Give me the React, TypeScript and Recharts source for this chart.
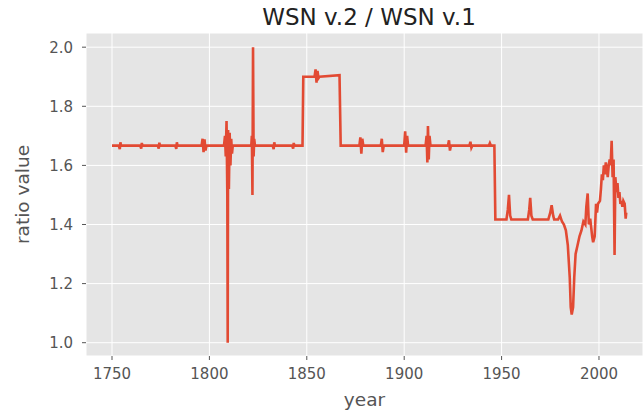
import React from "react";
import { LineChart, Line, XAxis, YAxis, CartesianGrid } from "recharts";

// ratio of WSN v.2 over WSN v.1
const years = [
  1750, 1753.5, 1754, 1754.3, 1754.6, 1764.5, 1765, 1765.3, 1765.6, 1773.5, 1774, 1774.3, 1774.6,
  1782.5, 1783, 1783.3, 1783.6, 1796, 1796.5, 1797, 1797.5, 1798, 1798.5, 1807.5, 1808, 1808.4,
  1808.8, 1809.2, 1809.4, 1809.6, 1810, 1810.4, 1810.8, 1811.2, 1811.6, 1812, 1821.5, 1821.8,
  1822.1, 1822.4, 1822.7, 1823, 1823.4, 1832.5, 1833, 1833.3, 1833.6, 1842.5, 1843, 1843.3, 1843.6,
  1847.8, 1848.2, 1854, 1854.5, 1855, 1855.5, 1856, 1856.5, 1866.8, 1867.4, 1877, 1877.5, 1878,
  1878.5, 1879, 1888, 1888.5, 1889, 1889.5, 1900, 1900.5, 1901, 1901.5, 1902, 1911, 1911.5, 1911.9,
  1912.2, 1912.6, 1913, 1913.5, 1922.5, 1923, 1923.5, 1924, 1933.5, 1934, 1934.5, 1935, 1943.5,
  1944, 1944.5, 1946.3, 1946.8, 1952.5, 1953.2, 1953.8, 1954.4, 1955, 1963.5, 1964.2, 1964.7,
  1965.3, 1966, 1974, 1975, 1975.7, 1976.5, 1977, 1979, 1980, 1981, 1982, 1983, 1984, 1985,
  1985.5, 1986, 1986.7, 1987.3, 1988, 1989, 1990, 1991, 1992, 1993, 1993.5, 1994.2, 1994.8,
  1995.5, 1996.5, 1997, 1997.8, 1998.5, 1999, 1999.5, 2000.5, 2001, 2001.5, 2002, 2002.5, 2003,
  2003.5, 2004, 2004.5, 2005, 2005.5, 2006, 2006.5, 2007, 2007.5, 2008, 2008.4, 2009, 2009.5,
  2010, 2010.5, 2011, 2011.5, 2012, 2012.5, 2013.2, 2013.7, 2014,
];
const ratios = [
  1.667, 1.667, 1.655, 1.678, 1.667, 1.667, 1.657, 1.676, 1.667, 1.667, 1.657, 1.677, 1.667,
  1.667, 1.656, 1.678, 1.667, 1.667, 1.69, 1.645, 1.688, 1.65, 1.667, 1.667, 1.7, 1.63,
  1.75, 1.5, 1.0, 1.72, 1.52, 1.71, 1.6, 1.69, 1.64, 1.667, 1.667, 1.7,
  1.5, 2.0, 1.63, 1.69, 1.667, 1.667, 1.655, 1.678, 1.667, 1.667, 1.657, 1.676, 1.667,
  1.667, 1.9, 1.9, 1.925, 1.88, 1.92, 1.895, 1.9, 1.905, 1.667, 1.667, 1.695, 1.64,
  1.69, 1.667, 1.667, 1.69, 1.645, 1.667, 1.667, 1.715, 1.643, 1.7, 1.667, 1.667, 1.7, 1.61,
  1.733, 1.62, 1.7, 1.667, 1.667, 1.685, 1.65, 1.667, 1.667, 1.68, 1.66, 1.667, 1.667,
  1.675, 1.667, 1.667, 1.417, 1.417, 1.45, 1.5, 1.43, 1.417, 1.417, 1.45, 1.49,
  1.43, 1.417, 1.417, 1.44, 1.465, 1.43, 1.417, 1.417, 1.43, 1.41, 1.4, 1.38, 1.33, 1.22,
  1.12, 1.095, 1.12, 1.22, 1.3, 1.33, 1.36, 1.38, 1.41, 1.4, 1.46, 1.505, 1.4,
  1.42, 1.36, 1.34, 1.36, 1.47, 1.44, 1.47, 1.48, 1.52, 1.57, 1.55, 1.6, 1.57,
  1.61, 1.59, 1.56, 1.6, 1.62, 1.6, 1.683, 1.56, 1.62, 1.297, 1.56, 1.51, 1.54,
  1.49, 1.51, 1.47, 1.48, 1.46, 1.48, 1.47, 1.42, 1.44,
];
const xTicks = [1750, 1800, 1850, 1900, 1950, 2000];
const yTicks = [1.0, 1.2, 1.4, 1.6, 1.8, 2.0];

const data = years.map((y, i) => ({ year: y, ratio: ratios[i] }));

const font = "DejaVu Sans, sans-serif";
const tickStyle = { fill: "#555", fontSize: 15, fontFamily: font };

export default function App() {
  return (
    <div style={{ position: "absolute", left: 0, top: 0, width: 643, height: 412, background: "#fff", overflow: "hidden" }}>
      <div style={{ position: "absolute", left: 169, width: 400, top: 4, textAlign: "center", fontFamily: font, fontSize: 23, color: "#222", whiteSpace: "nowrap" }}>
        WSN v.2 / WSN v.1
      </div>
      <LineChart width={643} height={412} data={data} margin={{ top: 33, right: 0, bottom: 0, left: 0 }}>
        <CartesianGrid fill="#E5E5E5" stroke="#fff" strokeWidth={1} />
        <XAxis
          dataKey="year"
          type="number"
          domain={[1736.65, 2022.6]}
          allowDataOverflow
          ticks={xTicks}
          height={56}
          tick={tickStyle}
          tickSize={4}
          tickMargin={8}
          axisLine={false}
          tickLine={{ stroke: "#555" }}
          label={{ value: "year", position: "insideBottom", offset: 6, fill: "#555", fontSize: 18.5, fontFamily: font }}
        />
        <YAxis
          type="number"
          domain={[0.955, 2.048]}
          allowDataOverflow
          ticks={yTicks}
          width={86}
          tick={tickStyle}
          tickSize={4}
          tickMargin={9}
          tickFormatter={(v: number) => v.toFixed(1)}
          axisLine={false}
          tickLine={{ stroke: "#555" }}
          label={{ value: "ratio value", angle: -90, position: "insideLeft", offset: 22, fill: "#555", fontSize: 18.5, fontFamily: font, style: { textAnchor: "middle" } }}
        />
        <Line
          type="linear"
          dataKey="ratio"
          stroke="#E24A33"
          strokeWidth={2.6}
          dot={false}
          isAnimationActive={false}
        />
      </LineChart>
    </div>
  );
}
